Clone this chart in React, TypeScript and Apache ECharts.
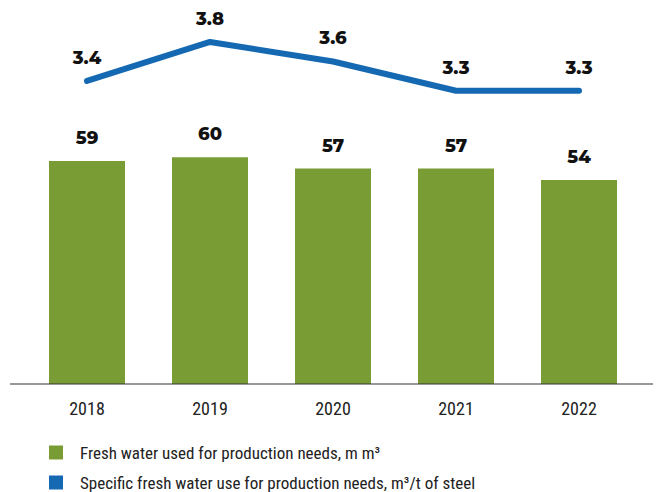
import React, { useEffect, useRef } from "react";
import * as echarts from "echarts";

const years = ["2018", "2019", "2020", "2021", "2022"];
const freshWater = [59, 60, 57, 57, 54];
const specificUse = [3.4, 3.8, 3.6, 3.3, 3.3];
const seriesNames = [
  "Fresh water used for production needs, m m³",
  "Specific fresh water use for production needs, m³/t of steel",
];

const GREEN = "#7a9c35";
const BLUE = "#1569b2";
const LABEL_FONT = "Montserrat, 'Open Sans', 'Noto Sans', sans-serif";
const NARROW = "'Liberation Sans Narrow', 'Roboto Condensed', Roboto, sans-serif";

export default function App() {
  const ref = useRef<HTMLDivElement>(null);
  useEffect(() => {
    document.body.style.margin = "0";
    if (!ref.current) return;
    const chart = echarts.init(ref.current, undefined, { renderer: "svg" });
    const legendBase = {
      orient: "horizontal",
      left: 49,
      padding: 0,
      itemWidth: 14,
      itemHeight: 14,
      icon: "rect",
      textStyle: { fontFamily: NARROW, fontSize: 17, color: "#222", padding: [0, 0, 0, 12] },
    };
    chart.setOption({
      animation: false,
      backgroundColor: "#ffffff",
      grid: { left: 25.5, right: 18.5, top: 6, bottom: 108, containLabel: false },
      legend: [
        { ...legendBase, top: 444, data: [{ name: seriesNames[0], icon: "rect" }] },
        { ...legendBase, top: 474, data: [{ name: seriesNames[1], icon: "rect" }] },
      ],
      xAxis: {
        type: "category",
        data: years,
        axisLine: { show: false },
        axisTick: { show: false },
        axisLabel: { fontFamily: NARROW, fontSize: 18, color: "#222", margin: 15 },
      },
      yAxis: [
        { type: "value", min: 0, max: 100, show: false, splitLine: { show: false } },
        { type: "value", min: 0.292, max: 4.169, show: false, splitLine: { show: false } },
      ],
      graphic: [
        {
          type: "line",
          shape: { x1: 10, y1: 384, x2: 653, y2: 384 },
          style: { stroke: "#333", lineWidth: 1.2 },
          z: 10,
        },
      ],
      series: [
        {
          name: seriesNames[0],
          type: "bar",
          data: freshWater,
          barWidth: 76,
          itemStyle: { color: GREEN },
          label: {
            show: true,
            position: "top",
            distance: 14,
            fontFamily: LABEL_FONT,
            fontWeight: 800,
            fontSize: 18,
            color: "#111",
          },
        },
        {
          name: seriesNames[1],
          type: "line",
          yAxisIndex: 1,
          data: specificUse,
          symbol: "circle",
          symbolSize: 4,
          itemStyle: { color: BLUE },
          lineStyle: { color: BLUE, width: 6, cap: "round", join: "round" },
          label: {
            show: true,
            position: "top",
            distance: 12,
            fontFamily: LABEL_FONT,
            fontWeight: 800,
            fontSize: 18,
            color: "#111",
            formatter: (p: any) => p.value.toFixed(1),
          },
          z: 5,
        },
      ],
    });
    return () => chart.dispose();
  }, []);
  return <div ref={ref} style={{ width: 659, height: 492 }} />;
}
